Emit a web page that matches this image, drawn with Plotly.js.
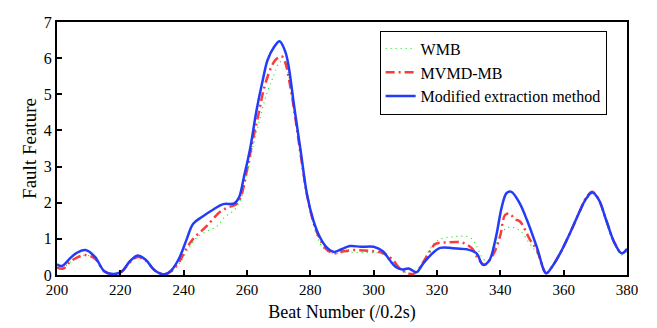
<!DOCTYPE html>
<html>
<head>
<meta charset="utf-8">
<script src="https://cdn.plot.ly/plotly-3.0.1.min.js"></script>
<style>
  html, body { margin: 0; padding: 0; background: #fff; }
  #chart { width: 657px; height: 328px; }
</style>
</head>
<body>
<div id="chart"></div>
<script>
// values
const wmbX = [200, 202, 204, 206, 209, 212, 215, 218, 220.5, 223, 225.5, 228, 231, 234, 236, 238.5, 241, 244, 247, 250.4, 253, 256, 258, 260, 262, 264, 266, 268.3, 270.4, 272, 274, 276, 278, 280, 282, 284, 286.2, 289, 292, 296, 300, 303, 306, 308, 310, 312.5, 314.5, 317, 320, 325.2, 330.4, 332.5, 334.5, 336, 338, 340, 342, 344, 346.5, 349, 351.5, 354.5, 356.5, 359, 362, 365, 367, 369, 371, 373.5, 376, 378.3, 380];
const wmbY = [0.22, 0.2, 0.35, 0.45, 0.55, 0.45, 0.1, 0.02, 0.1, 0.35, 0.5, 0.4, 0.12, 0.02, 0.08, 0.3, 0.65, 1.02, 1.2, 1.34, 1.6, 1.8, 2.1, 2.8, 3.6, 4.3, 4.95, 5.49, 5.9, 5.85, 5.0, 3.9, 2.8, 1.8, 1.1, 0.75, 0.62, 0.6, 0.63, 0.62, 0.62, 0.58, 0.4, 0.2, 0.08, 0.03, 0.2, 0.6, 0.95, 1.06, 1.04, 0.8, 0.45, 0.38, 0.7, 1.1, 1.3, 1.32, 1.2, 0.9, 0.6, 0.05, 0.25, 0.6, 1.12, 1.7, 2.05, 2.25, 2.05, 1.45, 0.85, 0.55, 0.65];

const mvmdX = [200, 202, 204, 206, 209, 212, 215, 218, 220.5, 223, 225.5, 228, 231, 234, 236, 238.5, 241, 243, 247, 251.5, 254, 256.5, 258, 260, 262, 264, 265.2, 267.3, 269, 270.9, 272, 273.5, 275, 277, 279, 281, 283, 285, 287.5, 290, 293.5, 297, 300, 303, 306, 308, 310, 312.5, 314.5, 317, 319.5, 323, 327.8, 331, 333, 335, 336.7, 338.5, 340, 341.5, 343, 344.5, 346.2, 349.4, 351.5, 354.5, 356.5, 359, 362, 365, 367, 369, 371, 373.5, 376, 378.3, 380];
const mvmdY = [0.2, 0.18, 0.35, 0.47, 0.55, 0.45, 0.1, 0.02, 0.1, 0.35, 0.5, 0.4, 0.12, 0.02, 0.1, 0.35, 0.75, 1.0, 1.33, 1.75, 1.87, 1.95, 2.15, 2.9, 3.8, 4.6, 5.1, 5.68, 5.95, 6.05, 5.9, 5.3, 4.5, 3.3, 2.2, 1.45, 1.0, 0.72, 0.6, 0.65, 0.69, 0.68, 0.66, 0.6, 0.42, 0.2, 0.08, 0.03, 0.2, 0.55, 0.86, 0.9, 0.9, 0.74, 0.45, 0.28, 0.42, 0.7, 1.1, 1.66, 1.7, 1.55, 1.48, 0.97, 0.7, 0.05, 0.25, 0.62, 1.16, 1.75, 2.12, 2.3, 2.1, 1.5, 0.9, 0.6, 0.72];

const modX = [200, 201.5, 204, 206, 209, 212, 215, 218, 220.5, 223, 225.5, 228, 231, 234, 236, 238.5, 241, 243, 246, 249.5, 252.5, 256, 257.5, 259, 261, 263, 265, 266.5, 268.5, 270.3, 272, 273, 275, 277, 279, 281, 283, 285, 287.5, 290, 292.5, 296, 300, 303, 305, 307, 309, 311, 313.5, 315.5, 318, 321, 325, 329.5, 332.5, 334.5, 336.5, 338.5, 340.5, 342, 343.5, 346, 348.5, 351.5, 354.5, 356.5, 359, 362, 365, 367, 369, 371, 373.5, 376, 378.3, 380];
const modY = [0.3, 0.25, 0.45, 0.6, 0.69, 0.5, 0.1, 0.03, 0.1, 0.38, 0.54, 0.42, 0.12, 0.02, 0.12, 0.45, 1.0, 1.42, 1.62, 1.82, 1.96, 1.98, 2.15, 2.7, 3.5, 4.55, 5.4, 5.95, 6.3, 6.47, 6.2, 5.85, 4.6, 3.4, 2.2, 1.5, 1.05, 0.78, 0.64, 0.72, 0.8, 0.78, 0.78, 0.65, 0.42, 0.22, 0.15, 0.18, 0.08, 0.3, 0.55, 0.75, 0.74, 0.71, 0.6, 0.28, 0.4, 1.0, 1.9, 2.27, 2.3, 2.0, 1.5, 0.78, 0.05, 0.25, 0.62, 1.16, 1.75, 2.1, 2.28, 2.1, 1.5, 0.9, 0.6, 0.72];

const xTicks = [200, 220, 240, 260, 280, 300, 320, 340, 360, 380];
const yTicks = [0, 1, 2, 3, 4, 5, 6, 7];

const serif = '"Liberation Serif", "Times New Roman", serif';

var traceWmb = {
    x: wmbX, y: wmbY, name: 'WMB',
    type: 'scatter', mode: 'lines',
    line: { color: 'rgb(20,230,20)', width: 1.2, dash: '1px,4px', shape: 'spline', smoothing: 1 }
};
var traceMvmd = {
    x: mvmdX, y: mvmdY, name: 'MVMD-MB',
    type: 'scatter', mode: 'lines',
    line: { color: 'rgb(250,60,60)', width: 2.5, dash: '9px,4px,2px,4px', shape: 'spline', smoothing: 1 }
};
var traceMod = {
    x: modX, y: modY, name: 'Modified extraction method',
    type: 'scatter', mode: 'lines',
    line: { color: 'rgb(35,60,250)', width: 2.5, shape: 'spline', smoothing: 1 }
};

var layout = {
    width: 657,
    height: 328,
    margin: { l: 57, r: 30, t: 22, b: 53 },
    paper_bgcolor: '#fff',
    plot_bgcolor: '#fff',
    font: { family: serif, size: 15, color: '#000' },
    showlegend: true,
    legend: {
        x: 0.566, y: 0.966, xanchor: 'left', yanchor: 'top',
        bgcolor: '#fff', bordercolor: '#000', borderwidth: 1,
        font: { family: serif, size: 16, color: '#000' },
        tracegroupgap: 0
    },
    xaxis: {
        range: [200, 380],
        tickvals: xTicks,
        ticks: 'inside', ticklen: 5, tickwidth: 2, tickcolor: '#000',
        showline: true, linecolor: '#000', linewidth: 2, mirror: true,
        showgrid: false, zeroline: false,
        tickfont: { family: serif, size: 15, color: '#000' },
        title: { text: 'Beat Number (/0.2s)', font: { family: serif, size: 18, color: '#000' }, standoff: 8 }
    },
    yaxis: {
        range: [0, 7],
        tickvals: yTicks,
        ticks: 'inside', ticklen: 5, tickwidth: 2, tickcolor: '#000',
        showline: true, linecolor: '#000', linewidth: 2, mirror: true,
        showgrid: false, zeroline: false,
        tickfont: { family: serif, size: 16, color: '#000' },
        title: { text: 'Fault Feature', font: { family: serif, size: 19, color: '#000' }, standoff: 2 }
    }
};

Plotly.newPlot('chart', [traceWmb, traceMvmd, traceMod], layout, { displayModeBar: false, staticPlot: true });
</script>
</body>
</html>
